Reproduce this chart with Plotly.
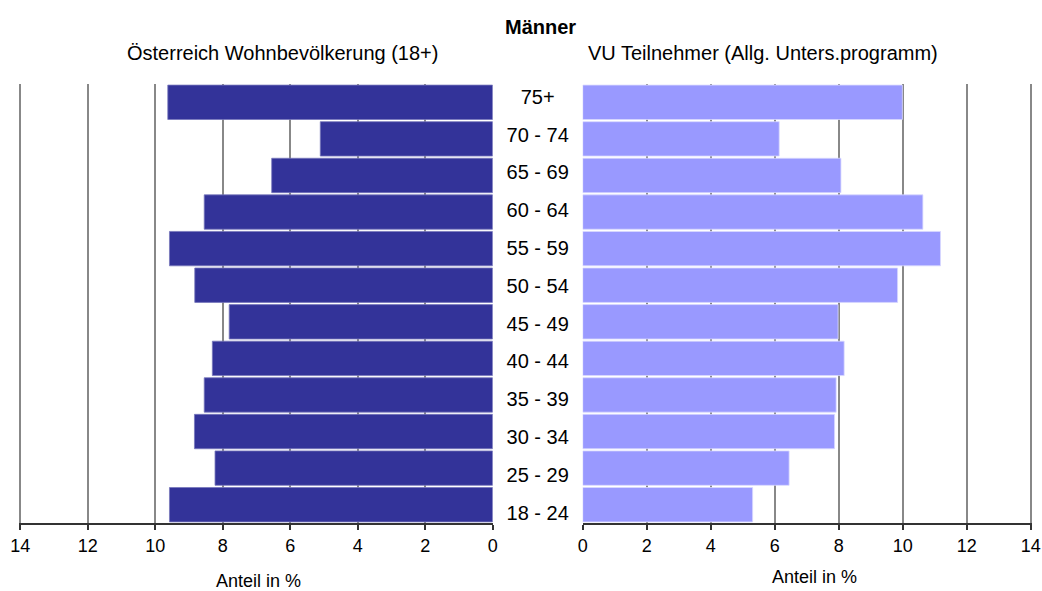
"""
Bevoelkerungspyramide Maenner: Oesterreich Wohnbevoelkerung vs. VU Teilnehmer.
"""

import plotly.graph_objects as go

# Daten
age_groups = ["18 - 24", "25 - 29", "30 - 34", "35 - 39", "40 - 44", "45 - 49",
              "50 - 54", "55 - 59", "60 - 64", "65 - 69", "70 - 74", "75+"]
oesterreich = [9.58, 8.23, 8.84, 8.55, 8.31, 7.81, 8.83, 9.58, 8.55, 6.55, 5.11, 9.63]
vu_teilnehmer = [5.31, 6.45, 7.87, 7.92, 8.17, 7.98, 9.84, 11.18, 10.63, 8.07, 6.14, 9.99]
x_ticks = [0, 2, 4, 6, 8, 10, 12, 14]

# Design-Konstanten
FONT = "Arial, Liberation Sans, sans-serif"
DARK_BLUE = "#333399"
LIGHT_BLUE = "#9999FF"
GRID = "#888888"
W, H = 1042, 591
X_MAX = 14.04  # etwas Luft, damit die Gitterlinie bei 14 sichtbar bleibt

fig = go.Figure()

fig.add_trace(go.Bar(
    y=age_groups, x=oesterreich, orientation="h",
    marker=dict(color=DARK_BLUE, line=dict(color="#7777bb", width=0.8)),
    xaxis="x", yaxis="y", showlegend=False,
))
fig.add_trace(go.Bar(
    y=age_groups, x=vu_teilnehmer, orientation="h",
    marker=dict(color=LIGHT_BLUE, line=dict(color="#d8d8ff", width=0.8)),
    xaxis="x2", yaxis="y2", showlegend=False,
))

# Alterskategorien in der Mitte (eigene, unsichtbare Achse)
fig.add_trace(go.Scatter(
    x=[0] * len(age_groups), y=age_groups, mode="text", text=age_groups,
    textfont=dict(size=20, color="black", family=FONT),
    xaxis="x3", yaxis="y3", showlegend=False, hoverinfo="skip",
))

axis_common = dict(
    tickvals=x_ticks, ticks="outside", ticklen=5, tickwidth=1.5,
    tickcolor="#333", showline=True, linecolor="#333", linewidth=2,
    showgrid=True, gridcolor=GRID, gridwidth=1.5, zeroline=False,
    automargin=False,
    tickfont=dict(size=18, color="black", family=FONT),
)
y_dom = [1 - 523 / H, 1 - 84 / H]
label_dom = [1 - 533.5 / H, 1 - 80 / H]
hidden = dict(visible=False, automargin=False)

fig.update_layout(
    width=W, height=H,
    paper_bgcolor="white", plot_bgcolor="white",
    margin=dict(l=0, r=0, t=0, b=0),
    bargap=0.06,
    font=dict(family=FONT, color="black"),
    xaxis=dict(axis_common, domain=[19 / W, 492.7 / W], range=[X_MAX, 0], anchor="y"),
    xaxis2=dict(axis_common, domain=[582.7 / W, 1032 / W], range=[0, X_MAX], anchor="y2"),
    xaxis3=dict(hidden, domain=[492.7 / W, 582.7 / W], range=[-1, 1], anchor="y3"),
    yaxis=dict(domain=y_dom, showticklabels=False, showgrid=False, automargin=False,
               categoryorder="array", categoryarray=age_groups, anchor="x"),
    yaxis2=dict(domain=y_dom, showticklabels=False, showgrid=False, automargin=False,
                categoryorder="array", categoryarray=age_groups, anchor="x2"),
    yaxis3=dict(hidden, domain=label_dom, categoryorder="array",
                categoryarray=age_groups, range=[-0.5, len(age_groups) - 0.5],
                anchor="x3"),
)

# Titel und Achsenbeschriftungen
texts = [
    ("<b>Männer</b>", 540, 27, 20),
    ("Österreich Wohnbevölkerung (18+)", 282, 53, 20),
    ("VU Teilnehmer (Allg. Unters.programm)", 763, 53, 20),
    ("Anteil in %", 258, 581, 18),
    ("Anteil in %", 814, 577, 18),
]
for t, px, py, size in texts:
    fig.add_annotation(x=px / W, y=1 - py / H, xref="paper", yref="paper",
                       text=t, showarrow=False, font=dict(size=size),
                       xanchor="center", yanchor="middle")

# Standard-Rand des Browsers entfernen
fig.write_html("out.html", config={"displayModeBar": False},
               post_script="document.body.style.margin='0';")
